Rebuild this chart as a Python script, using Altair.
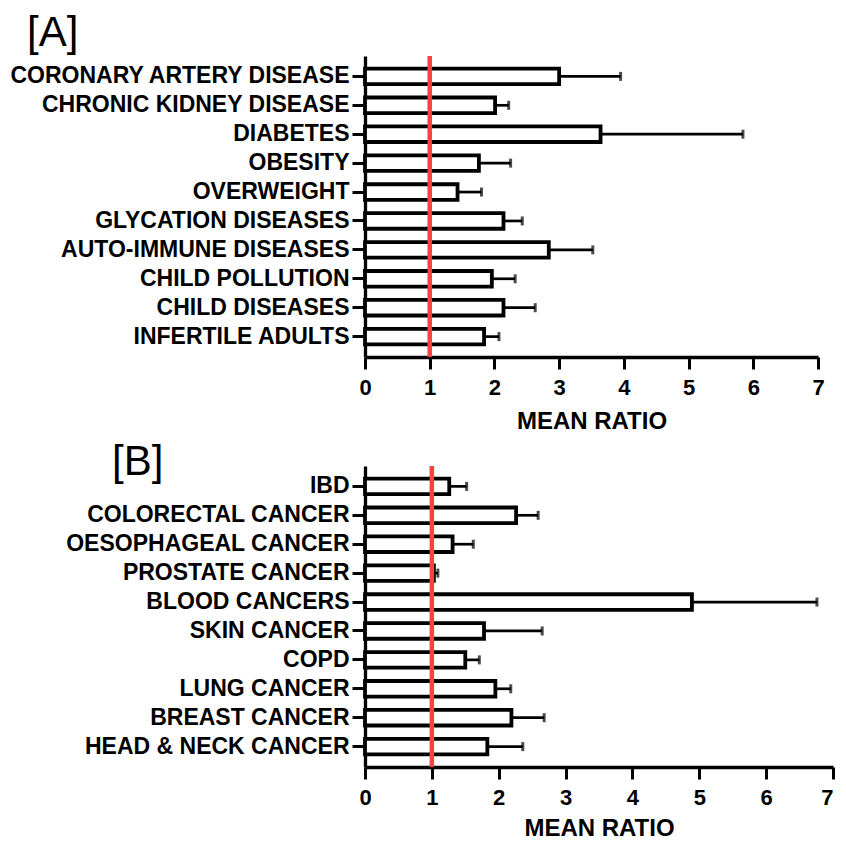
import altair as alt
import pandas as pd

labels_a = ["CORONARY ARTERY DISEASE", "CHRONIC KIDNEY DISEASE", "DIABETES", "OBESITY",
            "OVERWEIGHT", "GLYCATION DISEASES", "AUTO-IMMUNE DISEASES", "CHILD POLLUTION",
            "CHILD DISEASES", "INFERTILE ADULTS"]
mean_a = [3.00, 2.01, 3.64, 1.76, 1.43, 2.14, 2.84, 1.96, 2.14, 1.84]
upper_a = [3.95, 2.22, 5.84, 2.25, 1.80, 2.43, 3.52, 2.32, 2.63, 2.07]

labels_b = ["IBD", "COLORECTAL CANCER", "OESOPHAGEAL CANCER", "PROSTATE CANCER",
            "BLOOD CANCERS", "SKIN CANCER", "COPD", "LUNG CANCER", "BREAST CANCER",
            "HEAD & NECK CANCER"]
mean_b = [1.26, 2.26, 1.31, 1.03, 4.89, 1.78, 1.50, 1.95, 2.19, 1.83]
upper_b = [1.52, 2.59, 1.62, 1.09, 6.76, 2.65, 1.71, 2.18, 2.68, 2.36]

x_ticks = [0, 1, 2, 3, 4, 5, 6, 7]
ref_value = [1]

FONT = "Liberation Sans"
RED = "#F54242"


def panel(labels, means, uppers, tag, width, height, tag_dx, tag_dy, title_pad, last_right):
    df = pd.DataFrame({"label": labels, "mean": means, "upper": uppers})
    y = alt.Y("label:N", sort=labels,
              scale=alt.Scale(paddingInner=0.46, paddingOuter=0.435),
              axis=alt.Axis(title=None, labelFont=FONT, labelFontSize=23, labelFontWeight="bold",
                            labelColor="black", labelLimit=500, labelPadding=3,
                            tickSize=13, tickWidth=3, tickColor="black",
                            domainWidth=3.3, domainColor="black"))
    xscale = alt.Scale(domain=[0, 7], nice=False)
    align = "center"
    if last_right:
        align = {"condition": {"test": "datum.value == 7", "value": "right"}, "value": "center"}
    xaxis = alt.Axis(values=x_ticks, title="MEAN RATIO", grid=False, labelFlush=False,
                     labelFont=FONT, labelFontSize=22, labelFontWeight="bold", labelColor="black",
                     labelAlign=align,
                     labelPadding=8, tickSize=12, tickWidth=3, tickColor="black",
                     domainWidth=3.3, domainColor="black", titleFont=FONT, titleFontSize=24,
                     titleFontWeight="bold", titleColor="black", titlePadding=title_pad,
                     format="d")
    base = alt.Chart(df)
    err = base.mark_rule(color="black", strokeWidth=2.7).encode(
        x=alt.X("mean:Q", scale=xscale, axis=xaxis), x2="upper:Q", y=y)
    cap = base.mark_tick(color="black", thickness=3, size=9, orient="vertical").encode(
        x=alt.X("upper:Q", scale=xscale), y=alt.Y("label:N", sort=labels))
    bars = base.mark_bar(fill="white", stroke="black", strokeWidth=3.8).encode(
        x=alt.X("mean:Q", scale=xscale), y=alt.Y("label:N", sort=labels))
    ref = alt.Chart(pd.DataFrame({"r": ref_value})).mark_rule(color=RED, strokeWidth=4.5).encode(
        x=alt.X("r:Q", scale=xscale))
    return alt.layer(err, cap, bars, ref).properties(
        width=width, height=height,
        title=alt.TitleParams(tag, anchor="start", frame="group", dx=tag_dx, dy=tag_dy,
                              font=FONT, fontSize=42, fontWeight="normal", color="black",
                              offset=0))


top = panel(labels_a, mean_a, upper_a, "[A]", 453, 301, -338, 1, 11, False)
bottom = panel(labels_b, mean_b, upper_b, "[B]", 468, 301, -253, 20, 8, True)

chart = alt.vconcat(top, bottom, spacing=7).properties(
    padding={"left": 0, "top": 3, "right": 0, "bottom": 0}
).configure_view(stroke=None).resolve_scale(x="independent", y="independent")

chart.save("out.html", embed_options={"renderer": "svg", "actions": False})
